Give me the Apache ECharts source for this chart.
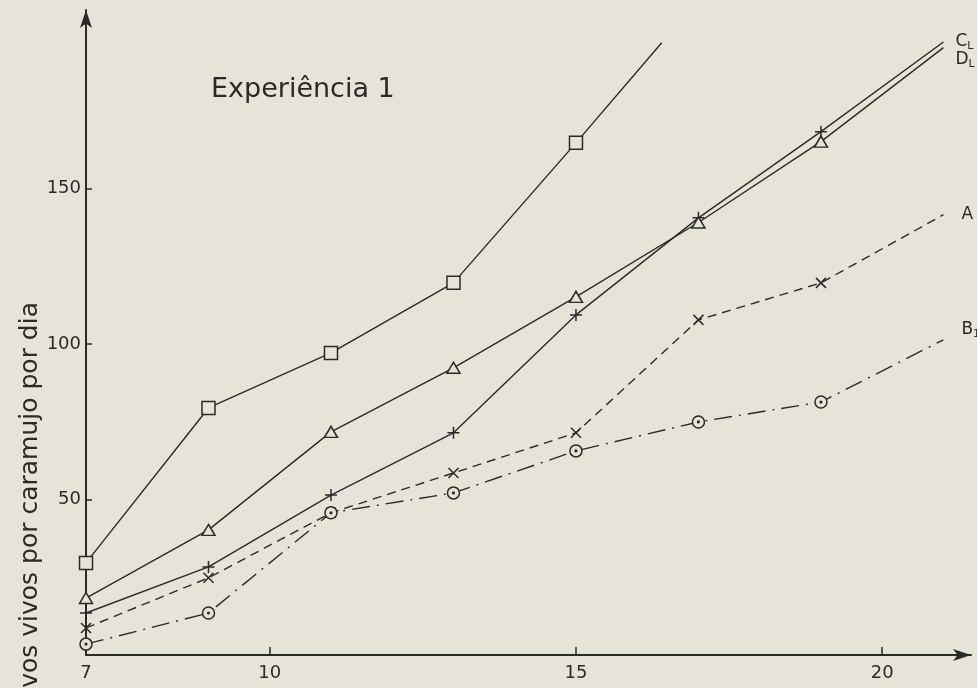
<!DOCTYPE html>
<html>
<head>
<meta charset="utf-8">
<script src="https://cdn.jsdelivr.net/npm/echarts@6/dist/echarts.min.js"></script>
<style>
html,body{margin:0;padding:0;background:#e7e3d8;}
#c{width:977px;height:688px;}
</style>
</head>
<body>
<div id="c"></div>
<script>
// ---- data ----
var days = [7, 9, 11, 13, 15, 17, 19, 21];
var squareDays = [7, 9, 11, 13, 15, 16.4];
var squareVals = [29.6, 79.4, 97.1, 119.6, 164.6, 196.8];
var plusVals = [13.5, 28.3, 51.4, 71.4, 109.3, 140.5, 168.2, 197.0];      // C
var triangleVals = [18.3, 40.2, 71.7, 92.3, 115.1, 139.0, 165.0, 195.2];  // D
var crossVals = [8.7, 24.8, 45.7, 58.5, 71.4, 107.7, 119.6, 141.5];       // A
var circleVals = [3.5, 13.5, 45.7, 52.1, 65.6, 74.9, 81.3, 101.3];        // B1
var xTickLabels = [7, 10, 15, 20];
var yTickLabels = [50, 100, 150];
var titleText = 'Experiência 1';
var yTitle = 'Nº de ovos vivos por caramujo por dia';

var INK = '#2a2a2a', BG = '#e7e3d8';
var FONT = 'DejaVu Sans';

function pts(xs, ys) {
  return ys.map(function (v, i) {
    var item = { value: [xs[i], v] };
    if (i === ys.length - 1) item.symbol = 'none';
    return item;
  });
}
function lbl(text, dx, dy) {
  if (!text) return { show: false };
  return {
    show: true, offset: [dx, dy], formatter: text,
    color: INK, fontFamily: FONT, fontSize: 17, align: 'left',
    rich: { s: { fontSize: 11, color: INK, fontFamily: FONT, padding: [8, 0, 0, 0] } }
  };
}
function mk(name, xs, ys, symbol, size, lineType, endText, dx, dy) {
  return {
    name: name, type: 'line', data: pts(xs, ys),
    symbol: symbol, symbolSize: size, symbolKeepAspect: true,
    showSymbol: true, clip: false, z: 3,
    lineStyle: { color: INK, width: 1.4, type: lineType },
    itemStyle: { color: BG, borderColor: INK, borderWidth: 1.5 },
    endLabel: lbl(endText, dx, dy),
    emphasis: { disabled: true }, animation: false
  };
}

var plusPath = 'path://M0,5L10,5M5,0L5,10';
var crossPath = 'path://M0,0L10,10M10,0L0,10';
var circleDot = 'path://M10,5A5,5,0,1,1,0,5A5,5,0,1,1,10,5ZM5.7,5A0.7,0.7,0,1,1,4.3,5A0.7,0.7,0,1,1,5.7,5Z';

var chart = echarts.init(document.getElementById('c'));
chart.setOption({
  backgroundColor: BG,
  animation: false,
  grid: { left: 86, right: 6, top: 10, bottom: 33 },
  xAxis: {
    type: 'value', min: 7, max: 21.45,
    axisLine: { show: true, lineStyle: { color: INK, width: 2 }, symbol: ['none', 'arrow'], symbolSize: [9, 18] },
    axisTick: { show: true, inside: true, length: 8, lineStyle: { color: INK, width: 1.5 }, customValues: [10, 15, 20] },
    axisLabel: { customValues: xTickLabels, color: INK, fontFamily: FONT, fontSize: 18, margin: 9 },
    splitLine: { show: false }
  },
  yAxis: {
    type: 'value', min: 0, max: 207.3,
    axisLine: { show: true, lineStyle: { color: INK, width: 2 }, symbol: ['none', 'arrow'], symbolSize: [9, 18] },
    axisTick: { show: true, inside: true, length: 6, lineStyle: { color: INK, width: 1.5 }, customValues: yTickLabels },
    axisLabel: { customValues: yTickLabels, color: INK, fontFamily: FONT, fontSize: 18, margin: 5 },
    splitLine: { show: false }
  },
  graphic: [
    { type: 'text', left: 211, top: 76, style: { text: titleText, fill: INK, font: '27px "' + FONT + '"' } },
    { type: 'text', x: 30, y: 302, rotation: Math.PI / 2,
      style: { text: yTitle, fill: INK, font: '25px "' + FONT + '"', textAlign: 'right', textVerticalAlign: 'middle' } }
  ],
  series: [
    mk('quadrado', squareDays, squareVals, 'rect', 13, 'solid', null, 0, 0),
    mk('C', days, plusVals, plusPath, 12, 'solid', 'C{s|L}', 4, 0),
    mk('D', days, triangleVals, 'triangle', [13, 11], 'solid', 'D{s|L}', 4, 12),
    mk('A', days, crossVals, crossPath, 10, [9, 6], 'A', 10, 0),
    mk('B1', days, circleVals, circleDot, 12, [18, 7, 2, 7], 'B{s|1}', 10, -10)
  ]
});
</script>
</body>
</html>
